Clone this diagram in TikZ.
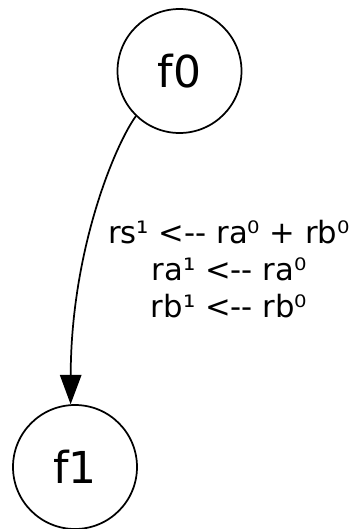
\documentclass[tikz,border=0pt]{standalone}
\usepackage{fontspec}
\newfontfamily\dejavu{DejaVu Sans}
\usetikzlibrary{arrows.meta}

\begin{document}
\begin{tikzpicture}[x=0.75pt,y=-0.75pt,
state/.style={draw=black,circle,line width=1.3pt,minimum size=93pt,inner sep=0pt,
font=\dejavu\fontsize{33}{40}\selectfont},
arrow/.style={-{Triangle[length=22pt,width=16pt]},line width=1.3pt,draw=black},
lbl/.style={align=center,font=\dejavu\fontsize{23}{28}\selectfont}]
\useasboundingbox (0,0) rectangle (355,529);
\node[state] (f0) at (179.5,71) {f0};
\node[state] (f1) at (75,467) {f1};
\draw[arrow] (f0.226) .. controls (115,145) and (71,250) .. (f1.94);
\node[lbl] (cmds) at (229,269) {rs¹ <-- ra⁰ + rb⁰\\ra¹ <-- ra⁰\\rb¹ <-- rb⁰};
\end{tikzpicture}
\end{document}
